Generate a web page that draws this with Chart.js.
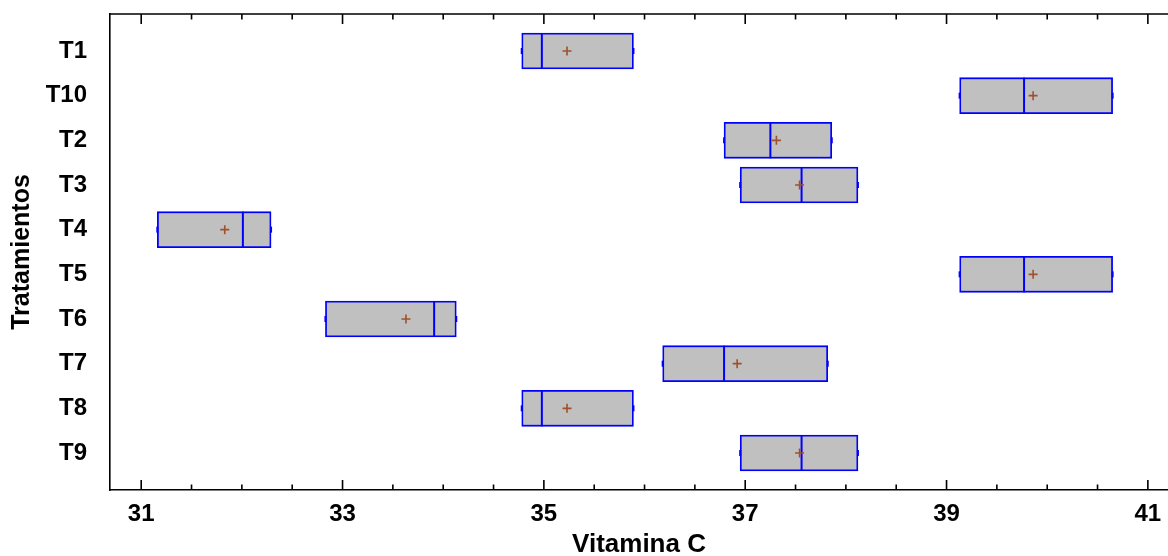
<!DOCTYPE html>
<html>
<head>
<meta charset="utf-8">
<script src="https://cdn.jsdelivr.net/npm/chart.js@4"></script>
<style>
  html, body { margin: 0; padding: 0; background: #fff; }
  #wrap { width: 1168px; height: 556px; }
</style>
</head>
<body>
<div id="wrap"><canvas id="boxChart" width="1168" height="556"></canvas></div>
<script>
// Tratamientos (top to bottom) and Vitamina C summary values
const categories = ['T1', 'T10', 'T2', 'T3', 'T4', 'T5', 'T6', 'T7', 'T8', 'T9'];
const minVals = [34.78, 39.13, 36.79, 36.95, 31.16, 39.13, 32.83, 36.18, 34.78, 36.95];
const maxVals = [35.89, 40.65, 37.86, 38.12, 32.29, 40.65, 34.13, 37.82, 35.89, 38.12];
const medians = [34.98, 39.77, 37.25, 37.56, 32.01, 39.77, 33.91, 36.79, 34.98, 37.56];
const means = [35.23, 39.86, 37.31, 37.54, 31.83, 39.86, 33.63, 36.92, 35.23, 37.54];

const xMajorTicks = [31, 33, 35, 37, 39, 41];
const xMinorTicks = [31.5, 32, 32.5, 33.5, 34, 34.5, 35.5, 36, 36.5, 37.5, 38, 38.5, 39.5, 40, 40.5];

const fontFamily = '"Liberation Sans", Arial, sans-serif';

function drawClassBoxPlot() {

    const boxes = categories.map((c, i) => ({ x: [minVals[i], maxVals[i]], y: i + 1 }));
    const medianPts = categories.map((c, i) => ({ x: medians[i], y: i + 1 }));
    const meanPts = categories.map((c, i) => ({ x: means[i], y: i + 1 }));
    const endPts = [];
    categories.forEach((c, i) => {
        endPts.push({ x: minVals[i], y: i + 1 });
        endPts.push({ x: maxVals[i], y: i + 1 });
    });

    // ticks on the bottom axis and the top frame line, pointing inwards
    const frameTicks = {
        id: 'frameTicks',
        afterDraw(chart) {
            const ctx = chart.ctx;
            const area = chart.chartArea;
            const x = chart.scales.x;
            ctx.save();
            ctx.strokeStyle = '#000';
            ctx.lineWidth = 1.6;
            ctx.beginPath();
            ctx.moveTo(area.left, area.top);
            ctx.lineTo(area.right, area.top);
            x.ticks.forEach(t => {
                const px = x.getPixelForValue(t.value);
                const len = xMajorTicks.includes(t.value) ? 10 : 5.5;
                ctx.moveTo(px, area.bottom);
                ctx.lineTo(px, area.bottom - len);
                ctx.moveTo(px, area.top);
                ctx.lineTo(px, area.top + len);
            });
            ctx.stroke();
            ctx.restore();
        }
    };

    const data = {
        datasets: [
            {
                type: 'scatter',
                label: 'Media',
                data: meanPts,
                pointStyle: 'cross',
                pointRadius: 4.5,
                borderColor: '#A0502A',
                borderWidth: 1.6,
                order: 1
            },
            {
                type: 'scatter',
                label: 'Mediana',
                data: medianPts,
                pointStyle: 'line',
                rotation: 90,
                pointRadius: 18,
                borderColor: '#0000FF',
                borderWidth: 2,
                order: 2
            },
            {
                type: 'scatter',
                label: 'Extremos',
                data: endPts,
                pointStyle: 'line',
                rotation: 90,
                pointRadius: 3,
                borderColor: '#0000FF',
                borderWidth: 2,
                order: 3
            },
            {
                type: 'bar',
                label: 'Vitamina C',
                indexAxis: 'y',
                data: boxes,
                backgroundColor: '#C0C0C0',
                borderColor: '#0000FF',
                borderWidth: 1.8,
                borderSkipped: false,
                barThickness: 36,
                order: 4
            }
        ]
    };

    const config = {
        type: 'bar',
        data: data,
        plugins: [frameTicks],
        options: {
            responsive: false,
            animation: false,
            layout: { autoPadding: false, padding: { top: 14, right: 0, bottom: 0, left: 0 } },
            scales: {
                x: {
                    type: 'linear',
                    position: 'bottom',
                    offset: false,
                    min: 30.69,
                    max: 41.2,
                    afterBuildTicks: s => {
                        s.ticks = xMajorTicks.concat(xMinorTicks).sort((a, b) => a - b).map(v => ({ value: v }));
                    },
                    afterFit: s => {
                        s.height = 66;
                        s.paddingLeft = 0;
                        s.paddingRight = 0;
                    },
                    ticks: {
                        autoSkip: false,
                        maxRotation: 0,
                        padding: 10,
                        color: '#000',
                        font: { family: fontFamily, size: 24, weight: 'bold' },
                        callback: v => xMajorTicks.includes(v) ? String(v) : ''
                    },
                    grid: { offset: false, drawOnChartArea: false, drawTicks: false },
                    border: { display: true, color: '#000', width: 1.6 },
                    title: {
                        display: true,
                        text: 'Vitamina C',
                        color: '#000',
                        padding: { top: 0, bottom: 0 },
                        font: { family: fontFamily, size: 26, weight: 'bold', lineHeight: 0.85 }
                    }
                },
                y: {
                    type: 'linear',
                    reverse: true,
                    offset: false,
                    min: 0.172,
                    max: 10.828,
                    afterBuildTicks: s => {
                        s.ticks = categories.map((c, i) => ({ value: i + 1 }));
                    },
                    afterFit: s => {
                        s.width = 110;
                        s.paddingTop = 0;
                        s.paddingBottom = 0;
                    },
                    ticks: {
                        autoSkip: false,
                        padding: 23,
                        color: '#000',
                        font: { family: fontFamily, size: 24, weight: 'bold' },
                        callback: v => categories[v - 1]
                    },
                    grid: { offset: false, drawOnChartArea: false, drawTicks: false },
                    border: { display: true, color: '#000', width: 1.6 },
                    title: {
                        display: true,
                        text: 'Tratamientos',
                        color: '#000',
                        padding: { top: 10.5, bottom: 0 },
                        font: { family: fontFamily, size: 25, weight: 'bold', lineHeight: 0.9 }
                    }
                }
            },
            plugins: {
                legend: { display: false },
                tooltip: { enabled: false },
                title: { display: false }
            }
        }
    };

    const myChart = new Chart(
        document.getElementById('boxChart'),
        config
    );
}

window.onload = drawClassBoxPlot;
</script>
</body>
</html>
